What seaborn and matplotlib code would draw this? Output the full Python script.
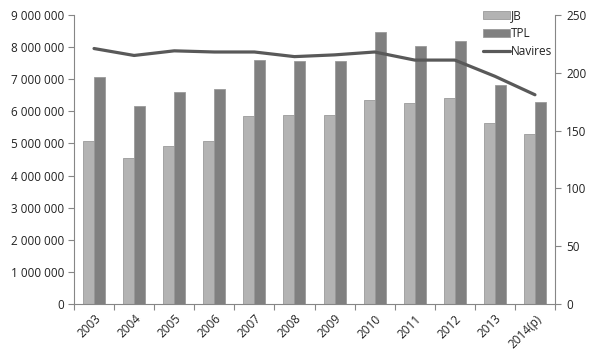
import numpy as np
import pandas as pd
import seaborn as sns
import matplotlib
matplotlib.use("Agg")
import matplotlib.pyplot as plt
from matplotlib.ticker import FuncFormatter, FixedLocator

years = ["2003", "2004", "2005", "2006", "2007", "2008", "2009", "2010",
         "2011", "2012", "2013", "2014(p)"]
jb = [5070000, 4560000, 4910000, 5080000, 5860000, 5880000, 5890000, 6360000,
      6260000, 6420000, 5630000, 5300000]
tpl = [7080000, 6180000, 6610000, 6710000, 7590000, 7570000, 7570000, 8460000,
       8050000, 8190000, 6810000, 6290000]
navires = [221, 215, 219, 218, 218, 214, 215.5, 218, 211, 211, 197, 181]

sns.set_theme(style="white")
plt.rcParams['font.family'] = ['Open Sans', 'DejaVu Sans']

df = pd.DataFrame({
    "year": years * 2,
    "value": jb + tpl,
    "serie": ["JB"] * len(years) + ["TPL"] * len(years),
})

fig = plt.figure(figsize=(5.97, 3.64), dpi=100)
ax = fig.add_axes([74 / 597, 1 - 304 / 364, (555 - 74) / 597, (304 - 15) / 364])

sns.barplot(data=df, x="year", y="value", hue="serie", order=years,
            palette={"JB": "#b3b3b3", "TPL": "#808080"}, width=0.55,
            edgecolor="#9a9a9a", linewidth=0.6, ax=ax, legend=True)
ax.set_xlim(-0.5, len(years) - 0.5)
ax.set_ylim(0, 9000000)
ax.set_yticks(np.arange(0, 9000001, 1000000))
ax.yaxis.set_major_formatter(FuncFormatter(lambda v, p: f"{int(v):,}".replace(",", " ")))
ax.set_xlabel("")
ax.set_ylabel("")

ax2 = ax.twinx()
sns.lineplot(x=np.arange(len(years)), y=navires, color="#595959", linewidth=2.3,
             ax=ax2, label="Navires", legend=False)
ax2.set_ylim(0, 250)
ax2.set_yticks(np.arange(0, 251, 50))
ax2.set_xlim(-0.5, len(years) - 0.5)

# x ticks at category boundaries
ax.set_xticks(np.arange(len(years)))
ax.set_xticklabels(years, rotation=45, ha="right", rotation_mode="anchor", fontsize=8.5, color="#222222")
ax.tick_params(axis="x", which="major", length=0, pad=6)
ax.xaxis.set_minor_locator(FixedLocator(np.arange(-0.5, len(years), 1.0)))
ax.tick_params(axis="x", which="minor", length=4, color="#868686", width=0.8, bottom=True)
ax.tick_params(axis="y", length=4, color="#868686", width=0.8, left=True, labelsize=8.5,
               labelcolor="#222222", pad=3)
ax2.tick_params(axis="y", length=4, color="#868686", width=0.8, right=True, labelsize=8.5,
                labelcolor="#222222", pad=4)

for a in (ax, ax2):
    for s in a.spines.values():
        s.set_color("#868686")
        s.set_linewidth(0.8)
    a.spines["top"].set_visible(False)
ax.spines["right"].set_visible(False)
ax2.spines["left"].set_visible(False)
ax2.spines["bottom"].set_visible(False)

h1, l1 = ax.get_legend_handles_labels()
h2, l2 = ax2.get_legend_handles_labels()
if ax.legend_:
    ax.legend_.remove()
leg = ax2.legend(h1 + h2, l1 + l2, loc="upper right", bbox_to_anchor=(0.995, 1.02), frameon=False,
                 fontsize=8.5, handlelength=2.3, handleheight=0.6, handletextpad=0.1,
                 labelspacing=0.4, borderaxespad=0, borderpad=0)
for t in leg.get_texts():
    t.set_color("#222222")

fig.savefig("out.png", dpi=100)
